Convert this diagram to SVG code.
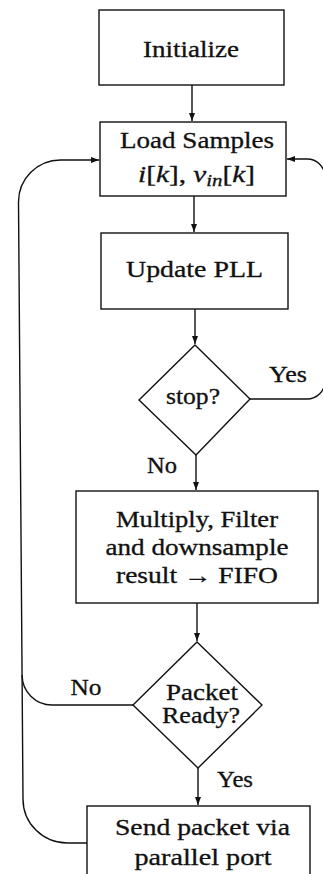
<svg xmlns="http://www.w3.org/2000/svg" width="323" height="874" viewBox="0 0 323 874">
<style>
.box{fill:#fff;stroke:#111;stroke-width:1.4}
.edge{fill:none;stroke:#111;stroke-width:1.4}
text{font-family:"Liberation Serif","Times New Roman",serif;font-size:22.5px;fill:#111;stroke:#111;stroke-width:0.3;text-anchor:middle}
.it{font-style:italic}
</style>
<defs>
<marker id="ah" markerUnits="userSpaceOnUse" markerWidth="9" markerHeight="7" refX="8" refY="3" orient="auto">
<path d="M0,0 L8,3 L0,6 z" fill="#111"/>
</marker>
</defs>
<rect width="323" height="874" fill="#fff"/>
<g id="connectors">
<path class="edge" d="M192,85 V121" marker-end="url(#ah)"/>
<path class="edge" d="M194,196 V232" marker-end="url(#ah)"/>
<path class="edge" d="M195,309 V344" marker-end="url(#ah)"/>
<path class="edge" d="M196,455 V490" marker-end="url(#ah)"/>
<path class="edge" d="M197,603 V641" marker-end="url(#ah)"/>
<path class="edge" d="M198,768 V805" marker-end="url(#ah)"/>
<path class="edge" d="M250,399 H307 A18,18 0 0 0 325,381 V177 A18,18 0 0 0 307,159 H287" marker-end="url(#ah)"/>
<path class="edge" d="M87,843 H67 A44,44 0 0 1 23,799 L18.5,202 A42,42 0 0 1 60.5,160 H99" marker-end="url(#ah)"/>
<path class="edge" d="M133,705 H52 A30,30 0 0 1 22.1,675"/>
</g>
<g id="initialize">
<rect class="box" x="99" y="10" width="185" height="75"/>
<text x="191" y="57" textLength="96" lengthAdjust="spacingAndGlyphs">Initialize</text>
</g>
<g id="load">
<rect class="box" x="100" y="122" width="186" height="74"/>
<text x="197" y="148" textLength="154" lengthAdjust="spacingAndGlyphs">Load Samples</text>
<text x="196.5" y="182" textLength="117" lengthAdjust="spacingAndGlyphs"><tspan class="it">i</tspan>[<tspan class="it">k</tspan>], <tspan class="it">v</tspan><tspan class="it" dy="4" font-size="16">in</tspan><tspan dy="-4">[</tspan><tspan class="it">k</tspan>]</text>
</g>
<g id="update">
<rect class="box" x="101" y="233" width="187" height="76"/>
<text x="194.5" y="277" textLength="137" lengthAdjust="spacingAndGlyphs">Update PLL</text>
</g>
<g id="stop">
<path class="box" d="M195,345 L250,399 L196,455 L139,400 Z"/>
<text x="193" y="404" textLength="54" lengthAdjust="spacingAndGlyphs">stop?</text>
</g>
<g id="multiply">
<rect class="box" x="76" y="491" width="242" height="112"/>
<text x="197" y="527" textLength="162" lengthAdjust="spacingAndGlyphs">Multiply, Filter</text>
<text x="197" y="555" textLength="183" lengthAdjust="spacingAndGlyphs">and downsample</text>
<text x="197" y="583" textLength="162" lengthAdjust="spacingAndGlyphs">result → FIFO</text>
</g>
<g id="packet">
<path class="box" d="M197,642 L262,705 L198,768 L133,705 Z"/>
<text x="202" y="700" textLength="72" lengthAdjust="spacingAndGlyphs">Packet</text>
<text x="201" y="723" textLength="78" lengthAdjust="spacingAndGlyphs">Ready?</text>
</g>
<g id="send">
<rect class="box" x="87" y="806" width="223" height="80"/>
<text x="202.5" y="835" textLength="175" lengthAdjust="spacingAndGlyphs">Send packet via</text>
<text x="203" y="865" textLength="137" lengthAdjust="spacingAndGlyphs">parallel port</text>
</g>
<g id="labels">
<text x="288" y="382" textLength="38" lengthAdjust="spacingAndGlyphs">Yes</text>
<text x="162" y="473" textLength="30" lengthAdjust="spacingAndGlyphs">No</text>
<text x="86" y="695" textLength="31" lengthAdjust="spacingAndGlyphs">No</text>
<text x="235" y="787" textLength="36" lengthAdjust="spacingAndGlyphs">Yes</text>
</g>
</svg>
